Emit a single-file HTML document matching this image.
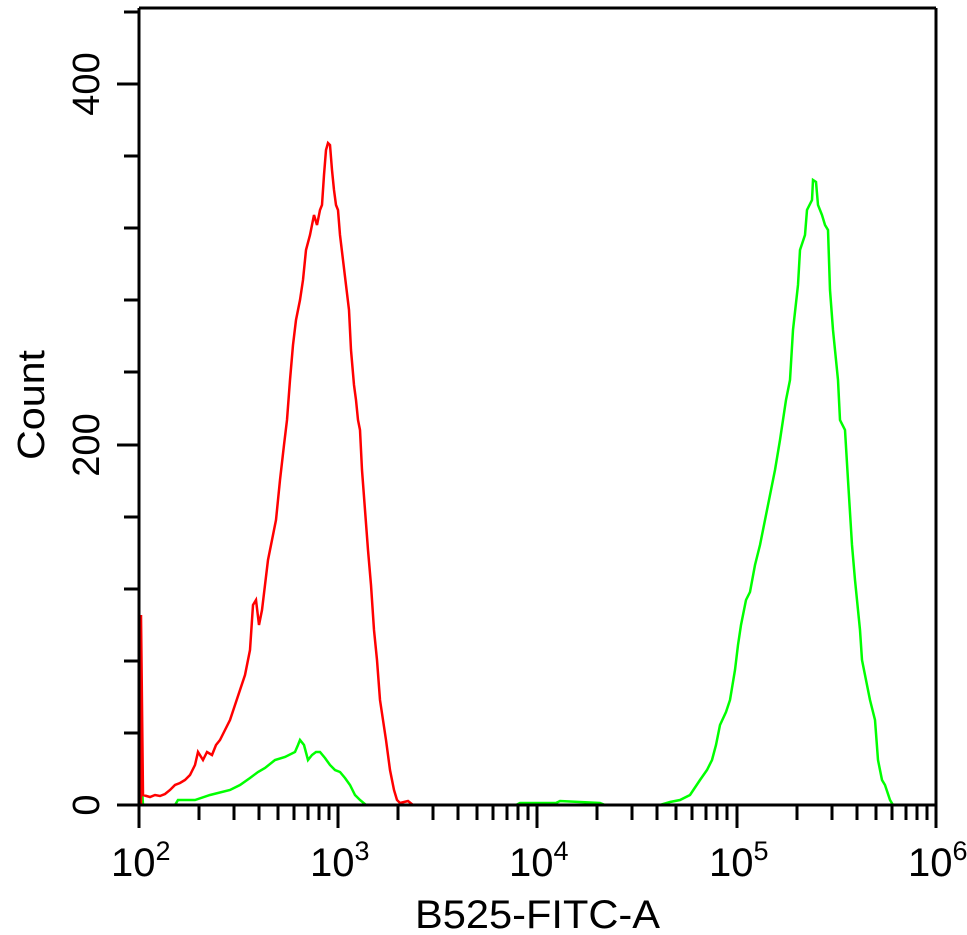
<!DOCTYPE html>
<html><head><meta charset="utf-8"><style>
html,body{margin:0;padding:0;background:#fff;}
svg{display:block;}
text{font-family:"Liberation Sans",sans-serif;fill:#000;}
</style></head><body>
<svg width="967" height="935" viewBox="0 0 967 935" xmlns="http://www.w3.org/2000/svg">
<g fill="none" stroke-linejoin="miter" stroke-width="2.5">
<polyline stroke="#00ff00" points="141,805 141,770 143,805 175,805 178,800 195,800 210,795 230,790 240,785 250,778 258,772 265,768 275,760 285,757 295,752 298,745 300,740 304,745 308,760 312,755 316,752 320,752 325,758 330,765 335,770 340,772 345,778 350,785 355,795 360,800 366,805 516,805 520,803 556,803 560,801 600,803 605,805 660,805 670,802 680,800 690,795 700,780 707,770 712,760 716,745 720,725 726,712 730,700 735,670 738,645 741,625 746,600 750,592 755,565 760,545 765,520 770,495 775,470 780,440 786,400 790,380 793,330 798,285 800,250 805,235 807,210 812,200 813,180 816,182 818,205 822,215 825,225 828,230 830,290 833,330 838,380 840,420 845,430 848,480 852,545 855,580 857,600 860,630 862,660 866,680 870,700 875,720 878,760 882,780 885,785 890,800 893,805"/>
<polyline stroke="#ff0000" points="141,805 141,615 143,795 150,797 155,795 160,796 165,794 170,790 175,785 180,783 185,780 190,775 195,765 198,752 203,760 207,752 212,755 216,745 220,740 225,730 230,720 235,705 240,690 245,675 250,650 253,605 256,600 259,625 262,610 265,585 268,560 272,540 276,520 280,480 284,445 287,420 290,380 293,345 296,320 300,300 303,280 306,250 310,235 314,215 317,225 320,210 322,205 324,175 326,150 328,143 330,145 332,170 334,190 336,205 338,210 340,235 343,260 346,285 349,310 351,350 354,385 356,400 358,420 360,430 362,470 365,510 368,550 371,585 374,630 377,660 380,700 383,720 386,740 390,770 394,790 397,800 400,803 408,801 413,805"/>
</g>
<g stroke="#000" stroke-width="3" fill="none">
<polyline points="139,8 139,805 936,805 936,8"/>
<line x1="139" y1="8" x2="936" y2="8"/>
<line x1="117" y1="805" x2="139" y2="805"/>
<line x1="117" y1="445" x2="139" y2="445"/>
<line x1="117" y1="84" x2="139" y2="84"/>
<line x1="124" y1="733" x2="139" y2="733"/>
<line x1="124" y1="661" x2="139" y2="661"/>
<line x1="124" y1="589" x2="139" y2="589"/>
<line x1="124" y1="517" x2="139" y2="517"/>
<line x1="124" y1="372" x2="139" y2="372"/>
<line x1="124" y1="300" x2="139" y2="300"/>
<line x1="124" y1="228" x2="139" y2="228"/>
<line x1="124" y1="156" x2="139" y2="156"/>
<line x1="124" y1="12" x2="139" y2="12"/>
</g>
<g stroke="#000" stroke-width="3">
<line x1="139" y1="805" x2="139" y2="828"/>
<line x1="338" y1="805" x2="338" y2="828"/>
<line x1="537" y1="805" x2="537" y2="828"/>
<line x1="737" y1="805" x2="737" y2="828"/>
<line x1="936" y1="805" x2="936" y2="828"/>
<path d="M199,805v15M234,805v15M259,805v15M278,805v15M294,805v15M308,805v15M319,805v15M329,805v15M398,805v15M433,805v15M458,805v15M477,805v15M493,805v15M507,805v15M518,805v15M528,805v15M597,805v15M632,805v15M657,805v15M676,805v15M692,805v15M706,805v15M717,805v15M727,805v15M797,805v15M832,805v15M857,805v15M876,805v15M892,805v15M906,805v15M917,805v15M927,805v15"/>
</g>
<g font-size="38">
<text transform="translate(99,805) rotate(-90)" text-anchor="middle">0</text>
<text transform="translate(99,445) rotate(-90)" text-anchor="middle">200</text>
<text transform="translate(99,84) rotate(-90)" text-anchor="middle">400</text>
<text transform="translate(44,405) rotate(-90)" text-anchor="middle" textLength="110" lengthAdjust="spacingAndGlyphs">Count</text>
</g>
<g font-size="40">
<text x="111" y="876">10<tspan font-size="27" dy="-16">2</tspan></text>
<text x="310" y="876">10<tspan font-size="27" dy="-16">3</tspan></text>
<text x="509" y="876">10<tspan font-size="27" dy="-16">4</tspan></text>
<text x="709" y="876">10<tspan font-size="27" dy="-16">5</tspan></text>
<text x="908" y="876">10<tspan font-size="27" dy="-16">6</tspan></text>
<text x="415" y="928" textLength="245" lengthAdjust="spacingAndGlyphs">B525-FITC-A</text>
</g>
</svg>
</body></html>
